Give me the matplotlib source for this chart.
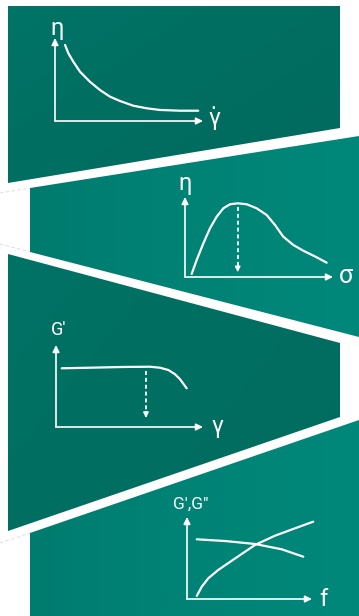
import matplotlib
matplotlib.use("Agg")
import matplotlib.pyplot as plt
from matplotlib.patches import Polygon
from matplotlib.colors import LinearSegmentedColormap
import numpy as np

plt.rcParams['font.family'] = ['Roboto', 'DejaVu Sans']

## 曲线数据 (每个小图内坐标 0-100, 原点为坐标轴交点)
# 剪切变稀: η - γ̇
flow_x = [6.8, 9.0, 12.4, 16.9, 23.6, 30.4, 37.2, 43.9, 52.9, 62.0, 70.9, 84.5, 96.8]
flow_y = [91.6, 81.6, 71.4, 59.4, 47.3, 37.3, 29.3, 24.1, 18.4, 15.3, 13.3, 12.4, 12.4]
# 屈服应力: η - σ
yield_x = [4.5, 7.9, 12.4, 16.9, 21.4, 25.9, 30.4, 35.6, 41.7, 48.4, 55.2, 60.8, 66.4, 73.2, 79.9, 89.0, 95.7]
yield_y = [3.8, 21.3, 42.1, 60.9, 75.4, 85.9, 90.9, 92.1, 90.9, 85.9, 77.5, 65.0, 50.4, 40.0, 32.9, 24.6, 17.9]
yield_mark = [35.6, 87, 6]
# 振幅扫描: G' - γ
amp_x = [3.9, 23.1, 45.8, 63.9, 70.7, 76.4, 81.0, 84.4, 88.9]
amp_y = [71.6, 72.3, 73.2, 73.5, 72.3, 69.5, 64.3, 58.2, 47.2]
amp_mark = [61.2, 68, 11]
# 频率扫描: G', G'' - f
g2_x = [7.8, 30.4, 54.4, 75.8, 93.0]
g2_y = [72.8, 70.7, 67.1, 60.6, 51.6]
g1_x = [7.8, 11.8, 17.0, 25.0, 35.8, 54.4, 70.4, 86.4, 101]
g1_y = [3.7, 15.0, 25.2, 35.4, 46.7, 65.9, 77.2, 86.2, 94.3]

labels = ["η", "γ\u0307", "η", "σ", "G′", "γ", "G′,G″", "f"]

W, H = 359, 616

fig = plt.figure(figsize=(W/100, H/100), dpi=100)
fig.patch.set_facecolor("white")
bg = fig.add_axes([0, 0, 1, 1])
bg.set_xlim(0, W)
bg.set_ylim(H, 0)
bg.axis("off")

## 面板: 顶点, 两端颜色, 渐变方向
panels = [
    ([(8, 6), (340, 6), (340, 128), (8, 183)], "#007568", "#006a5d", (0.55, 0.45)),
    ([(30, 188), (359, 136), (359, 337), (30, 252)], "#007a6d", "#00887a", (1, 0)),
    ([(8, 254), (340, 343), (340, 417), (8, 531)], "#007366", "#006c5f", (0.6, 0.4)),
    ([(30, 533), (359, 420), (359, 616), (30, 616)], "#007b6e", "#00887a", (1, 0)),
]
yy, xx = np.mgrid[0:H, 0:W]
for pts, c0, c1, (wx, wy) in panels:
    p = np.array(pts)
    x0, x1 = p[:, 0].min(), p[:, 0].max()
    y0, y1 = p[:, 1].min(), p[:, 1].max()
    t = wx*(xx - x0)/(x1 - x0) + wy*(yy - y0)/(y1 - y0)
    t = np.clip(t, 0, 1) ** 0.7
    cm = LinearSegmentedColormap.from_list("g", [c0, c1])
    poly = Polygon(pts, closed=True, fc="none", ec="none")
    bg.add_patch(poly)
    im = bg.imshow(t, cmap=cm, extent=(0, W, H, 0), vmin=0, vmax=1,
                   interpolation="bilinear", aspect="auto")
    im.set_clip_path(poly)
bg.set_xlim(0, W)
bg.set_ylim(H, 0)
# 白色区域中的淡线
for (xa, ya), (xb, yb) in [((0, 193), (30, 188)), ((0, 244), (30, 252)), ((0, 543), (30, 533))]:
    bg.plot([xa, xb], [ya, yb], color="#d8d8d8", lw=0.6, ls=(0, (4, 3)))


def mini(x0, y0, w, h):
    ax = fig.add_axes([x0/W, 1 - y0/H, w/W, h/H])
    ax.set_xlim(0, 100)
    ax.set_ylim(0, 100)
    ax.axis("off")
    ax.patch.set_alpha(0)
    ap = dict(arrowstyle="-|>", color="white", lw=1.2, mutation_scale=10,
              shrinkA=0, shrinkB=0)
    ax.annotate("", xy=(100, 0), xytext=(0, 0), arrowprops=ap, annotation_clip=False)
    ax.annotate("", xy=(0, 100), xytext=(0, 0), arrowprops=ap, annotation_clip=False)
    return ax


def dash_arrow(ax, m):
    x, ytop, ybot = m
    ax.plot([x, x], [ytop, ybot + 6], color="white", lw=1.3, ls=(0, (2.2, 1.6)))
    ax.annotate("", xy=(x, ybot), xytext=(x, ybot + 8),
                arrowprops=dict(arrowstyle="-|>", color="white", lw=1.0,
                                mutation_scale=8, shrinkA=0, shrinkB=0))


tk = dict(color="white", ha="center", va="center", clip_on=False)

ax1 = mini(55, 121, 148, 83)
ax1.plot(flow_x, flow_y, color="white", lw=1.6, clip_on=False, solid_capstyle="round")
ax1.text(1.4, 112, labels[0], fontsize=17, **tk)
ax1.text(108, 3, labels[1], fontsize=17, **tk)

ax2 = mini(185, 277, 148, 80)
ax2.plot(yield_x, yield_y, color="white", lw=1.6, clip_on=False, solid_capstyle="round")
dash_arrow(ax2, yield_mark)
ax2.text(0, 117, labels[2], fontsize=17, **tk)
ax2.text(109, 1, labels[3], fontsize=18, **tk)

ax3 = mini(56, 427, 147, 82)
ax3.plot(amp_x, amp_y, color="white", lw=1.6, clip_on=False, solid_capstyle="round")
dash_arrow(ax3, amp_mark)
ax3.text(1.5, 118, labels[4], fontsize=13, **tk)
ax3.text(109.5, 1, labels[5], fontsize=17, **tk)

ax4 = mini(187, 599, 125, 82)
ax4.plot(g2_x, g2_y, color="white", lw=1.6, clip_on=False, solid_capstyle="round")
ax4.plot(g1_x, g1_y, color="white", lw=1.6, clip_on=False, solid_capstyle="round")
ax4.text(3, 115, labels[6], fontsize=12.5, **tk)
ax4.text(109, 0, labels[7], fontsize=17, **tk)

fig.savefig("out.png", dpi=100)
